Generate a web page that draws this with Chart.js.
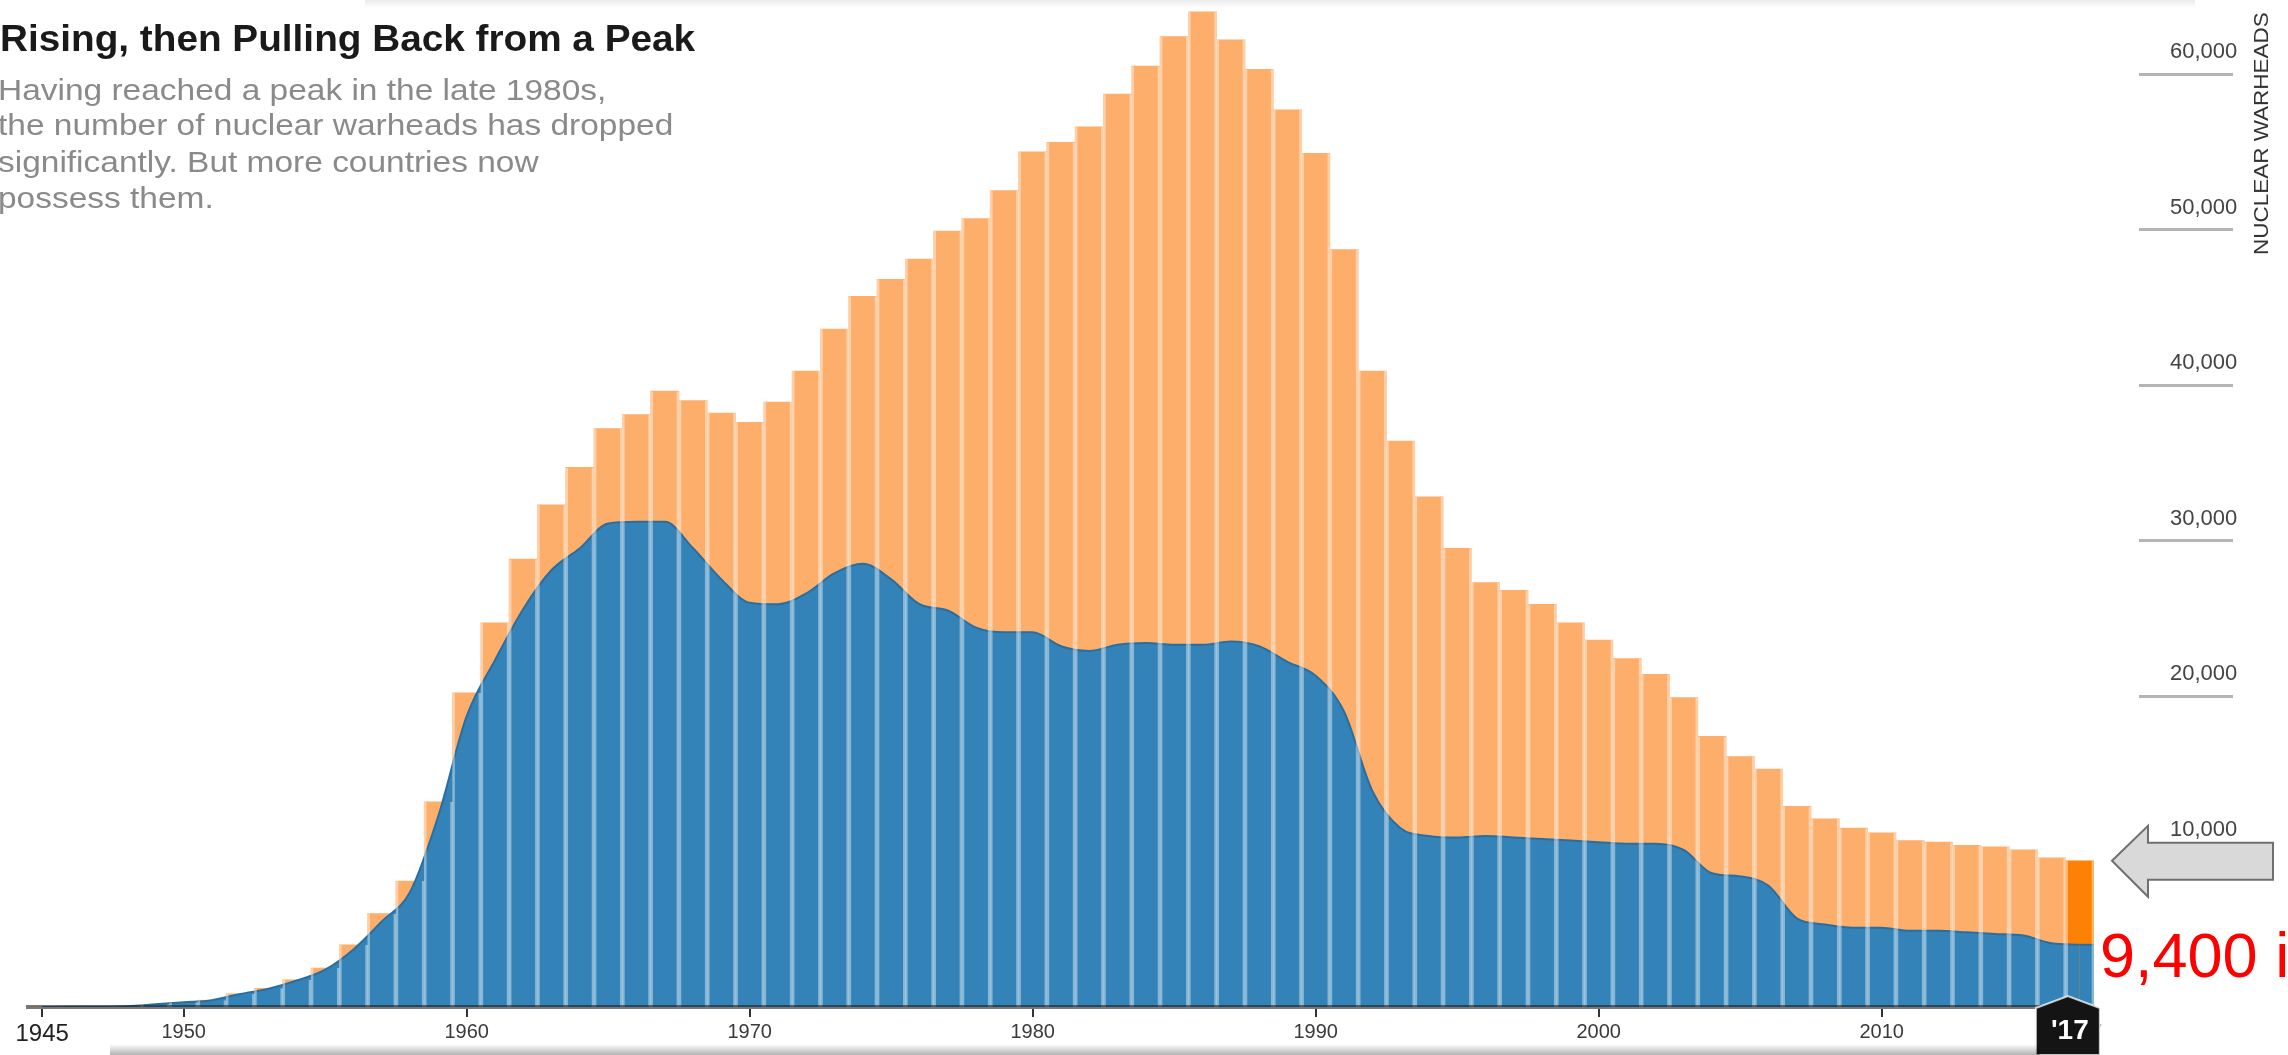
<!DOCTYPE html>
<html>
<head>
<meta charset="utf-8">
<title>Nuclear warheads</title>
<script src="https://cdn.jsdelivr.net/npm/chart.js@4.4.1/dist/chart.umd.min.js"></script>
<style>
  html, body { margin: 0; padding: 0; background: #fff; }
  body { width: 2288px; height: 1055px; overflow: hidden; position: relative; font-family: "Liberation Sans", Arial, sans-serif; }
  #chart { position: absolute; left: 0; top: 0; }
  .txt { position: absolute; white-space: nowrap; transform-origin: 0 0; }
  .title { left: 0; top: 20px; font: bold 37px/37px "Liberation Sans Narrow", "Liberation Sans", sans-serif; color: #1a1a1a; }
  .sub { left: -2px; font: 29px/36px "Liberation Sans Narrow", "Liberation Sans", sans-serif; color: #8a8a8a; }
  .axis-title { left: 2250px; top: 255px; font: 21px/22px "Liberation Sans", Arial, sans-serif; color: #333; }
  .note { left: 2100px; top: 924px; font: 63px/63px "Liberation Sans", Arial, sans-serif; color: #ff0000; }
  .shade-top { position: absolute; left: 365px; top: 0; width: 1830px; height: 8px;
    background: linear-gradient(to bottom, rgba(0,0,0,0.08), rgba(0,0,0,0)); }
  .shade-bottom { position: absolute; left: 110px; top: 1045px; width: 1930px; height: 10px;
    background: linear-gradient(to bottom, rgba(0,0,0,0.02), rgba(0,0,0,0.3)); }
</style>
</head>
<body>
<canvas id="chart" width="2288" height="1055"></canvas>
<div class="shade-top"></div>
<div class="shade-bottom"></div>

<div class="txt title" id="title">Rising, then Pulling Back from a Peak</div>
<div class="txt sub" style="top:72px">Having reached a peak in the late 1980s,</div>
<div class="txt sub" id="subRef" style="top:107px">the number of nuclear warheads has dropped</div>
<div class="txt sub" style="top:144px">significantly. But more countries now</div>
<div class="txt sub" style="top:180px">possess them.</div>
<div class="txt axis-title" id="axisTitle">NUCLEAR WARHEADS</div>
<div class="txt note">9,400 in 2017</div>

<script>
const years = [
  1945, 1946, 1947, 1948, 1949, 1950, 1951, 1952, 1953, 1954,
  1955, 1956, 1957, 1958, 1959, 1960, 1961, 1962, 1963, 1964,
  1965, 1966, 1967, 1968, 1969, 1970, 1971, 1972, 1973, 1974,
  1975, 1976, 1977, 1978, 1979, 1980, 1981, 1982, 1983, 1984,
  1985, 1986, 1987, 1988, 1989, 1990, 1991, 1992, 1993, 1994,
  1995, 1996, 1997, 1998, 1999, 2000, 2001, 2002, 2003, 2004,
  2005, 2006, 2007, 2008, 2009, 2010, 2011, 2012, 2013, 2014,
  2015, 2016, 2017
];

// all countries (orange bars)
const totalWarheads = [
  2, 9, 13, 50, 170, 300, 440, 850, 1200, 1750,
  2500, 4000, 6000, 8100, 13200, 20200, 24700, 28800, 32300, 34700,
  37200, 38100, 39600, 39000, 38200, 37600, 38900, 40900, 43600, 45700,
  46800, 48100, 49900, 50700, 52500, 55000, 55600, 56600, 58700, 60500,
  62400, 64000, 62200, 60300, 57700, 54900, 48700, 40900, 36400, 32800,
  29500, 27300, 26800, 25900, 24700, 23600, 22400, 21400, 19900, 17400,
  16100, 15300, 12900, 12100, 11500, 11200, 10700, 10600, 10400, 10300,
  10100, 9600, 9400
];

// blue area
const usWarheads = [
  2, 9, 13, 50, 170, 300, 440, 840, 1170, 1700,
  2400, 3700, 5500, 7400, 12300, 18700, 22300, 25600, 28100, 29500,
  31100, 31200, 31200, 29500, 27500, 26000, 25900, 26600, 27900, 28500,
  27500, 25900, 25500, 24400, 24100, 24100, 23200, 22900, 23300, 23400,
  23300, 23300, 23500, 23200, 22200, 21300, 19000, 13900, 11500, 11000,
  10900, 11000, 10900, 10800, 10700, 10600, 10500, 10500, 10100, 8600,
  8400, 7800, 5700, 5300, 5100, 5100, 4900, 4900, 4800, 4700,
  4600, 4100, 4000
];

const tickYears = [1945, 1950, 1960, 1970, 1980, 1990, 2000, 2010, 2017];
const yTicks = [10000, 20000, 30000, 40000, 50000, 60000];

const ORANGE = '#fdae6b';
const ORANGE_HI = '#fd8204';
const BLUE = '#3383b9';
const BLUE_EDGE = '#2b6e9e';
const FONT = '"Liberation Sans", Arial, sans-serif';
const last = years.length - 1;

// the blue area stops at the last point's centre; carry it to the end of the last bar
const areaExtend = {
  id: 'areaExtend',
  afterDatasetDraw(chart, args) {
    if (args.index !== 1) return;
    const p = args.meta.data[args.meta.data.length - 1];
    const base = chart.scales.y.getPixelForValue(0);
    const right = chart.chartArea.right;
    const ctx = chart.ctx;
    ctx.save();
    ctx.fillStyle = BLUE;
    ctx.fillRect(p.x, p.y, right - p.x, base - p.y);
    ctx.strokeStyle = BLUE_EDGE;
    ctx.lineWidth = 2;
    ctx.beginPath();
    ctx.moveTo(p.x, p.y);
    ctx.lineTo(right, p.y);
    ctx.stroke();
    ctx.restore();
  }
};

const extras = {
  id: 'extras',
  afterDraw(chart) {
    const ctx = chart.ctx;
    const xs = chart.scales.x;
    const ys = chart.scales.y;
    ctx.save();

    // short rules under the value labels
    ctx.strokeStyle = '#b4b4b4';
    ctx.lineWidth = 3;
    ys.ticks.forEach(t => {
      const y = Math.round(ys.getPixelForValue(t.value)) + 0.5;
      ctx.beginPath();
      ctx.moveTo(ys.left + 45, y);
      ctx.lineTo(ys.left + 139, y);
      ctx.stroke();
    });

    // arrow pointing at the last bar
    const tx = xs.right + 18;
    const ty = ys.getPixelForValue(totalWarheads[last]);
    ctx.beginPath();
    ctx.moveTo(tx, ty);
    ctx.lineTo(tx + 36, ty - 35);
    ctx.lineTo(tx + 36, ty - 18);
    ctx.lineTo(tx + 161, ty - 18);
    ctx.lineTo(tx + 161, ty + 19);
    ctx.lineTo(tx + 36, ty + 19);
    ctx.lineTo(tx + 36, ty + 36);
    ctx.closePath();
    ctx.fillStyle = '#d9d9d9';
    ctx.fill();
    ctx.strokeStyle = '#6f6f6f';
    ctx.lineWidth = 2;
    ctx.stroke();

    // '17 badge
    const bx = xs.getPixelForValue(last) - 12;
    const h = chart.height;
    ctx.beginPath();
    ctx.moveTo(bx - 32, h);
    ctx.lineTo(bx - 32, 1008);
    ctx.lineTo(bx, 996);
    ctx.lineTo(bx + 32, 1008);
    ctx.lineTo(bx + 32, h);
    ctx.closePath();
    ctx.fillStyle = '#141414';
    ctx.fill();
    ctx.strokeStyle = 'rgba(255,255,255,0.75)';
    ctx.lineWidth = 2;
    ctx.stroke();
    ctx.fillStyle = '#fff';
    ctx.font = 'bold 28px ' + FONT;
    ctx.textAlign = 'center';
    ctx.textBaseline = 'middle';
    ctx.fillText("'17", bx + 2, 1031);

    ctx.restore();
  }
};

const chart = new Chart(document.getElementById('chart'), {
  type: 'bar',
  data: {
    labels: years,
    datasets: [
      {
        type: 'bar',
        data: totalWarheads,
        backgroundColor: years.map((y, i) => i === last ? ORANGE_HI : ORANGE),
        borderWidth: 0,
        barPercentage: 1,
        categoryPercentage: 1,
        grouped: false,
        order: 2
      },
      {
        type: 'line',
        data: usWarheads,
        fill: 'origin',
        backgroundColor: BLUE,
        borderColor: BLUE_EDGE,
        borderWidth: 2,
        pointRadius: 0,
        cubicInterpolationMode: 'monotone',
        order: 1
      },
      {
        // thin light strips between bars, over both colours
        type: 'bar',
        data: totalWarheads,
        backgroundColor: 'rgba(0,0,0,0)',
        borderColor: 'rgba(255,255,255,0.42)',
        borderWidth: { left: 2, right: 2, top: 0, bottom: 0 },
        borderSkipped: false,
        barPercentage: 1,
        categoryPercentage: 1,
        grouped: false,
        order: 0
      }
    ]
  },
  options: {
    responsive: false,
    animation: false,
    events: [],
    layout: { padding: { left: 28, top: 4, right: 0, bottom: 0 } },
    plugins: {
      legend: { display: false },
      tooltip: { enabled: false },
      title: { display: false }
    },
    scales: {
      x: {
        type: 'category',
        offset: true,
        grid: {
          offset: false,
          drawOnChartArea: false,
          drawTicks: true,
          tickLength: 10,
          lineWidth: 2,
          color: (c) => (c.tick && c.tick.label && c.tick.label !== '2017') ? '#333' : 'rgba(0,0,0,0)'
        },
        border: { display: true, color: 'rgba(30,30,30,0.6)', width: 4, z: 1 },
        ticks: {
          autoSkip: false,
          maxRotation: 0,
          padding: 3,
          color: (c) => c.index === 0 ? '#222' : '#3a3a3a',
          font: (c) => c.index === 0 ? { size: 24, family: FONT } : { size: 20, family: FONT },
          callback: (v, i) => tickYears.includes(years[i]) ? String(years[i]) : ''
        },
        afterFit: (s) => { s.height = 48; s.paddingLeft = 0; s.paddingRight = 0; }
      },
      y: {
        type: 'linear',
        position: 'right',
        min: 0,
        max: 64500,
        grid: { display: false },
        border: { display: false },
        ticks: {
          padding: 68,
          labelOffset: -22,
          color: '#444',
          font: { size: 22, family: FONT },
          callback: (v) => v.toLocaleString('en-US')
        },
        afterBuildTicks: (s) => { s.ticks = yTicks.map(v => ({ value: v })); },
        afterFit: (s) => { s.width = 194; s.paddingTop = 0; s.paddingBottom = 0; }
      }
    }
  },
  plugins: [areaExtend, extras]
});

// squeeze the heading texts to the widths they have in the original
function squeeze(el, target, rotate) {
  const k = target / el.offsetWidth;
  el.style.transform = (rotate ? 'rotate(-90deg) ' : '') + 'scaleX(' + k + ')';
  return k;
}
squeeze(document.getElementById('title'), 695);
const subK = 675 / document.getElementById('subRef').offsetWidth;
document.querySelectorAll('.sub').forEach(el => { el.style.transform = 'scaleX(' + subK + ')'; });
squeeze(document.getElementById('axisTitle'), 243, true);
</script>
</body>
</html>
